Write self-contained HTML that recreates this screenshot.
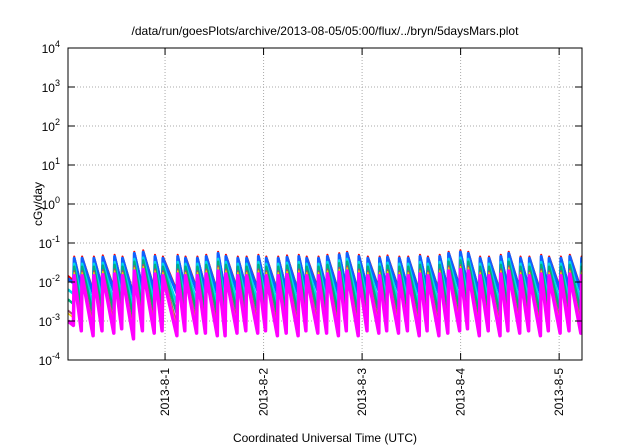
<!DOCTYPE html>
<html><head><meta charset="utf-8"><style>
body{margin:0;background:#fff;}
svg{display:block;font-family:"Liberation Sans",sans-serif;}
</style></head><body>
<svg id="chart" width="640" height="448" viewBox="0 0 640 448">
<text x="325" y="35" text-anchor="middle" font-size="12">/data/run/goesPlots/archive/2013-08-05/05:00/flux/../bryn/5daysMars.plot</text>
<g id="grid"></g>
<g id="series"></g>
<rect x="68" y="48" width="514" height="312" fill="none" stroke="#000" stroke-width="1"/>
<g id="axes"></g>
<text transform="translate(42,204) rotate(-90)" text-anchor="middle" font-size="12">cGy/day</text>
<text x="325" y="442" text-anchor="middle" font-size="12">Coordinated Universal Time (UTC)</text>
</svg>
<script>
// days relative to 2013-8-1 00:00
const xTickDays=[0,1,2,3,4];
const xTickLabels=["2013-8-1","2013-8-2","2013-8-3","2013-8-4","2013-8-5"];
const yTickExps=[-4,-3,-2,-1,0,1,2,3,4];
const peakTimes=[-0.93,-0.85,-0.73,-0.64,-0.52,-0.44,-0.32,-0.23,-0.11,-0.03,0.12,0.20,0.32,0.41,0.53,0.61,0.73,0.82,0.94,1.02,1.14,1.23,1.35,1.43,1.55,1.64,1.76,1.84,1.96,2.05,2.17,2.25,2.37,2.46,2.58,2.66,2.78,2.87,2.99,3.07,3.19,3.28,3.40,3.48,3.60,3.69,3.81,3.89,4.01,4.10,4.22];
const peakVals=[0.045,0.045,0.045,0.048,0.05,0.045,0.06,0.065,0.05,0.045,0.05,0.045,0.045,0.05,0.06,0.05,0.045,0.045,0.05,0.045,0.045,0.048,0.05,0.045,0.045,0.05,0.055,0.06,0.05,0.045,0.045,0.048,0.045,0.045,0.05,0.045,0.05,0.06,0.065,0.06,0.045,0.045,0.05,0.06,0.045,0.045,0.05,0.045,0.045,0.05,0.045];
const troughVals=[0.011,0.008,0.006,0.008,0.007,0.009,0.005,0.008,0.007,0.008,0.006,0.008,0.007,0.007,0.006,0.006,0.007,0.008,0.007,0.008,0.006,0.007,0.006,0.008,0.007,0.007,0.006,0.008,0.006,0.008,0.007,0.008,0.007,0.008,0.006,0.008,0.006,0.007,0.008,0.009,0.006,0.008,0.006,0.008,0.007,0.008,0.006,0.008,0.007,0.008,0.007];
const seriesColors=["#ff0000","#1060ff","#00d8e8","#00b080","#a05070","#ffcc00","#ff00ff"];
const seriesPeakFactor=[1.0,0.9,0.65,0.55,0.42,0.38,0.32];
const seriesTroughFactor=[1.0,0.85,0.45,0.25,0.13,0.11,0.07];
const seriesWidths=[2,3,2.5,2.5,2,1.5,3.5];

const X0=68,X1=582,Y0=360,Y1=48,D0=-0.985,D1=4.232;
const x=d=>X0+(d-D0)/(D1-D0)*(X1-X0);
const y=v=>Y0-(Math.log10(v)+4)/8*(Y0-Y1);
const NS="http://www.w3.org/2000/svg";
function mk(t,a,p){const e=document.createElementNS(NS,t);for(const k in a)e.setAttribute(k,a[k]);p.appendChild(e);return e;}
const grid=document.getElementById('grid'),axes=document.getElementById('axes'),ser=document.getElementById('series');
yTickExps.forEach(e=>{
  const yy=y(Math.pow(10,e));
  if(e>-4&&e<4){const g=mk('line',{x1:X0,x2:X1,y1:yy,y2:yy,stroke:'#aaa','stroke-dasharray':'1,2'},grid);
  
  }
  const t1=mk('line',{x1:X0,x2:X0+7,y1:yy,y2:yy,stroke:'#000'},axes);
  
  
  const t2=mk('line',{x1:X1,x2:X1-7,y1:yy,y2:yy,stroke:'#000'},axes);
  
  
  const tx=mk('text',{x:60,y:yy+5,'text-anchor':'end','font-size':'12'},axes);
  
  
  tx.appendChild(document.createTextNode('10'));
  const ts=mk('tspan',{dy:-6,'font-size':'9'},tx);ts.textContent=String(e);
});
xTickDays.forEach((d,i)=>{
  const xx=x(d);
  const g=mk('line',{x1:xx,x2:xx,y1:Y1,y2:Y0,stroke:'#aaa','stroke-dasharray':'1,2'},grid);
  
  
  const t1=mk('line',{x1:xx,x2:xx,y1:Y0,y2:Y0-7,stroke:'#000'},axes);
  
  
  const t2=mk('line',{x1:xx,x2:xx,y1:Y1,y2:Y1+7,stroke:'#000'},axes);
  
  
  const tx=mk('text',{transform:`translate(${xx+4},368) rotate(-90)`,'text-anchor':'end','font-size':'12'},axes);
  
  
  tx.textContent=xTickLabels[i];
});
const clip=mk('clipPath',{id:'pc'},mk('defs',{},document.getElementById('chart')));
mk('rect',{x:X0,y:Y1,width:X1-X0,height:Y0-Y1},clip);
ser.setAttribute('clip-path','url(#pc)');
seriesColors.forEach((c,s)=>{
  let pts=[];
  pts.push([x(D0),y(troughVals[0]*seriesTroughFactor[s]*1.3)]);
  for(let i=0;i<peakTimes.length;i++){
    pts.push([x(peakTimes[i]),y(troughVals[i]*seriesTroughFactor[s])]);
    pts.push([x(peakTimes[i]+0.008),y(peakVals[i]*seriesPeakFactor[s])]);
  }
  pts.push([x(D1+0.05),y(troughVals[troughVals.length-1]*seriesTroughFactor[s])]);
  const p=mk('polyline',{points:pts.map(q=>q[0].toFixed(1)+','+q[1].toFixed(1)).join(' '),fill:'none',stroke:c,'stroke-width':seriesWidths[s],'stroke-linejoin':'round'},ser);
  
  
});
</script>
</body></html>
